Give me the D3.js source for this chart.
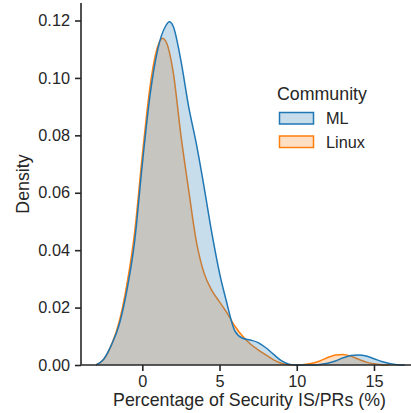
<!DOCTYPE html>
<html>
<head>
<meta charset="utf-8">
<script src="https://cdn.jsdelivr.net/npm/d3@7"></script>
<style>
  html, body { margin: 0; padding: 0; background: #fff; }
  svg text { font-family: "Liberation Sans", Arial, sans-serif; fill: #262626; }
</style>
</head>
<body>
<div id="chart"></div>
<script>
// KDE curves (x in %, density)
const mlX = [-3, -2.5, -2, -1.5, -1, -0.5, 0, 0.5, 1, 1.5, 1.75, 2, 2.5, 3, 3.5, 4, 4.5, 5, 5.5, 5.75, 6, 6.5, 7, 7.5, 8, 8.5, 9, 9.5, 10, 10.5, 11, 11.5, 12, 12.5, 13, 13.5, 14, 14.5, 15, 15.5, 16, 16.5, 17];
const mlDensity = [0, 0.002, 0.007, 0.014, 0.026, 0.043, 0.070, 0.094, 0.110, 0.118, 0.1196, 0.118, 0.106, 0.090, 0.077, 0.062, 0.046, 0.032, 0.021, 0.0157, 0.0118, 0.0093, 0.0087, 0.0078, 0.006, 0.0037, 0.0015, 0.0003, 0, 0, 0, 0.0002, 0.0006, 0.0014, 0.0025, 0.0033, 0.0035, 0.0031, 0.0022, 0.0012, 0.0005, 0.0001, 0];

const linuxX = [-3, -2.5, -2, -1.5, -1, -0.5, 0, 0.5, 1, 1.3, 1.5, 2, 2.5, 3, 3.5, 4, 4.5, 5, 5.5, 5.75, 6, 6.5, 7, 7.5, 8, 8.5, 9, 9.5, 10, 10.5, 11, 11.5, 12, 12.5, 13, 13.5, 14, 14.5, 15, 15.5, 16];
const linuxDensity = [0, 0.002, 0.007, 0.015, 0.028, 0.046, 0.073, 0.097, 0.111, 0.1138, 0.113, 0.102, 0.080, 0.061, 0.043, 0.032, 0.026, 0.022, 0.018, 0.0157, 0.0135, 0.0100, 0.0073, 0.0053, 0.0035, 0.0018, 0.0006, 0.0001, 0, 0.0002, 0.0006, 0.0014, 0.0026, 0.0035, 0.0037, 0.0031, 0.002, 0.001, 0.0004, 0.0001, 0];

const xTicks = [0, 5, 10, 15];
const yTicks = [0, 0.02, 0.04, 0.06, 0.08, 0.10, 0.12];
const community = ['ML', 'Linux'];
const colors = { ML: '#1f77b4', Linux: '#ff7f0e' };

const W = 411, H = 413;
const margin = { top: 3, right: -7, bottom: 48, left: 81 };
const width = W - margin.left - margin.right;
const height = H - margin.top - margin.bottom;

const svg = d3.select('#chart').append('svg')
    .attr('width', W)
    .attr('height', H);
const g = svg.append('g').attr('transform', `translate(${margin.left},${margin.top})`);

const x = d3.scaleLinear().domain([-3.97, 17.85]).range([0, width]);
const y = d3.scaleLinear().domain([0, 0.1261]).range([height, 0]);

const series = {
    ML: mlX.map((v, i) => ({ x: v, d: mlDensity[i] })),
    Linux: linuxX.map((v, i) => ({ x: v, d: linuxDensity[i] }))
};

const area = d3.area().x(p => x(p.x)).y0(y(0)).y1(p => y(p.d)).curve(d3.curveMonotoneX);
const line = d3.line().x(p => x(p.x)).y(p => y(p.d)).curve(d3.curveMonotoneX);

// seaborn draws hue levels in reverse, so Linux first
['Linux', 'ML'].forEach(k => {
    g.append('path')
        .attr('d', area(series[k]))
        .attr('fill', colors[k])
        .attr('fill-opacity', 0.25);
    g.append('path')
        .attr('d', line(series[k]))
        .attr('fill', 'none')
        .attr('stroke', colors[k])
        .attr('stroke-width', 1.5);
});

// axes
const xAxis = g.append('g')
    .attr('transform', `translate(0,${height})`)
    .call(d3.axisBottom(x).tickValues(xTicks).tickSize(6).tickPadding(4.5));
const yAxis = g.append('g')
    .call(d3.axisLeft(y).tickValues(yTicks).tickFormat(d3.format('.2f')).tickSize(6).tickPadding(5));

[xAxis, yAxis].forEach(a => {
    a.selectAll('path').attr('stroke', '#262626').attr('stroke-width', 1.6);
    a.selectAll('line').attr('stroke', '#262626').attr('stroke-width', 1.6);
    a.selectAll('text').attr('font-size', 16.3).attr('fill', '#262626')
        .style('font-family', '"Liberation Sans", Arial, sans-serif');
});
xAxis.select('.domain').attr('d', `M0,0H${width}`);
yAxis.select('.domain').attr('d', `M0,${height}V0`);

// axis labels
g.append('text')
    .attr('x', width / 2)
    .attr('y', height + 40.5)
    .attr('text-anchor', 'middle')
    .attr('font-size', 17.8)
    .text('Percentage of Security IS/PRs (%)');
g.append('text')
    .attr('transform', 'rotate(-90)')
    .attr('x', -height / 2)
    .attr('y', -52.5)
    .attr('text-anchor', 'middle')
    .attr('font-size', 17.8)
    .text('Density');

// legend
const legend = svg.append('g').attr('transform', 'translate(277,0)');
legend.append('text')
    .attr('x', 0)
    .attr('y', 100)
    .attr('font-size', 17.8)
    .text('Community');
community.forEach((k, i) => {
    const yy = 112.5 + i * 23.5;
    legend.append('rect')
        .attr('x', 2.5)
        .attr('y', yy)
        .attr('width', 34)
        .attr('height', 11.5)
        .attr('fill', colors[k])
        .attr('fill-opacity', 0.25)
        .attr('stroke', colors[k])
        .attr('stroke-width', 1.5);
    legend.append('text')
        .attr('x', 49)
        .attr('y', yy + 11.5)
        .attr('font-size', 16.3)
        .text(k);
});
</script>
</body>
</html>
